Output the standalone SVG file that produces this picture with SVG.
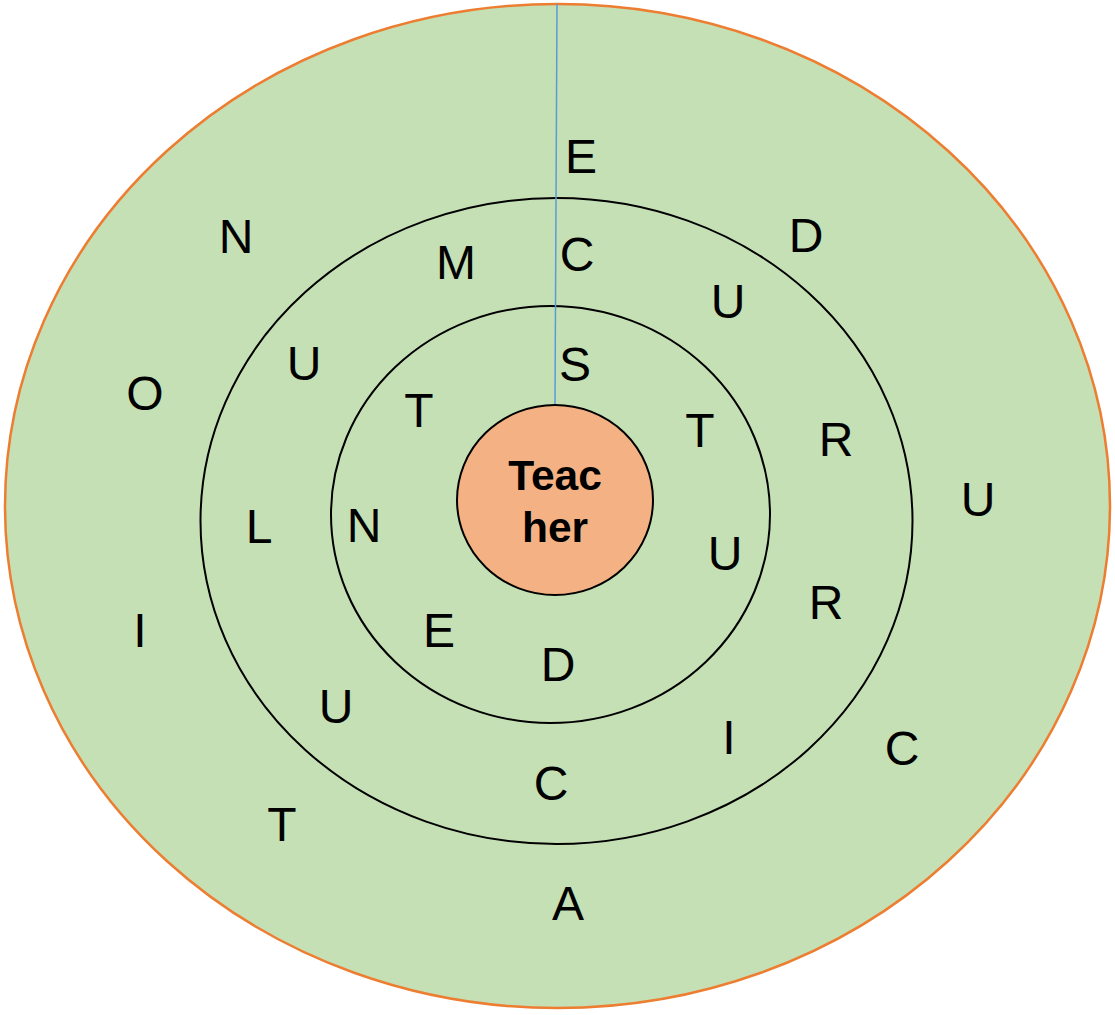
<svg xmlns="http://www.w3.org/2000/svg" width="1115" height="1015" viewBox="0 0 1115 1015">
<style>
.l{font-family:"Liberation Sans",Arial,sans-serif;font-size:48px;fill:#000;text-anchor:middle}
.t{font-family:"Liberation Sans",Arial,sans-serif;font-size:42.5px;font-weight:bold;fill:#000;text-anchor:middle}
.ring{fill:none;stroke:#000;stroke-width:2}
</style>
<rect width="1115" height="1015" fill="#fff"/>
<g id="outer"><ellipse cx="557.5" cy="506" rx="552.5" ry="502" fill="#c5e0b4" stroke="#ed7d31" stroke-width="2.5"/></g>
<g id="middle"><ellipse class="ring" cx="556.5" cy="521" rx="356" ry="323"/></g>
<g id="inner"><ellipse class="ring" cx="550.5" cy="514.5" rx="219.5" ry="208.5"/></g>
<g id="connectors"><line x1="557" y1="4" x2="555" y2="405" stroke="#5b9bd5" stroke-width="1.5"/></g>
<g id="teacher"><ellipse cx="555" cy="500" rx="98" ry="95" fill="#f4b183" stroke="#000" stroke-width="2"/>
<text class="t" x="555" y="490">Teac</text><text class="t" x="555" y="542">her</text></g>
<g id="letters">
<text class="l" x="581" y="173">E</text>
<text class="l" x="236" y="253">N</text>
<text class="l" x="806" y="252">D</text>
<text class="l" x="456" y="279">M</text>
<text class="l" x="577" y="271">C</text>
<text class="l" x="728" y="318">U</text>
<text class="l" x="304" y="380">U</text>
<text class="l" x="575" y="381">S</text>
<text class="l" x="145" y="410">O</text>
<text class="l" x="419" y="427">T</text>
<text class="l" x="700" y="447">T</text>
<text class="l" x="836" y="456">R</text>
<text class="l" x="978" y="516">U</text>
<text class="l" x="259" y="543">L</text>
<text class="l" x="364" y="542">N</text>
<text class="l" x="725" y="570">U</text>
<text class="l" x="826" y="619">R</text>
<text class="l" x="140" y="647">I</text>
<text class="l" x="439" y="647">E</text>
<text class="l" x="558" y="681">D</text>
<text class="l" x="336" y="723">U</text>
<text class="l" x="729" y="754">I</text>
<text class="l" x="902" y="765">C</text>
<text class="l" x="551" y="800">C</text>
<text class="l" x="282" y="841">T</text>
<text class="l" x="568" y="920">A</text>
</g>
</svg>
